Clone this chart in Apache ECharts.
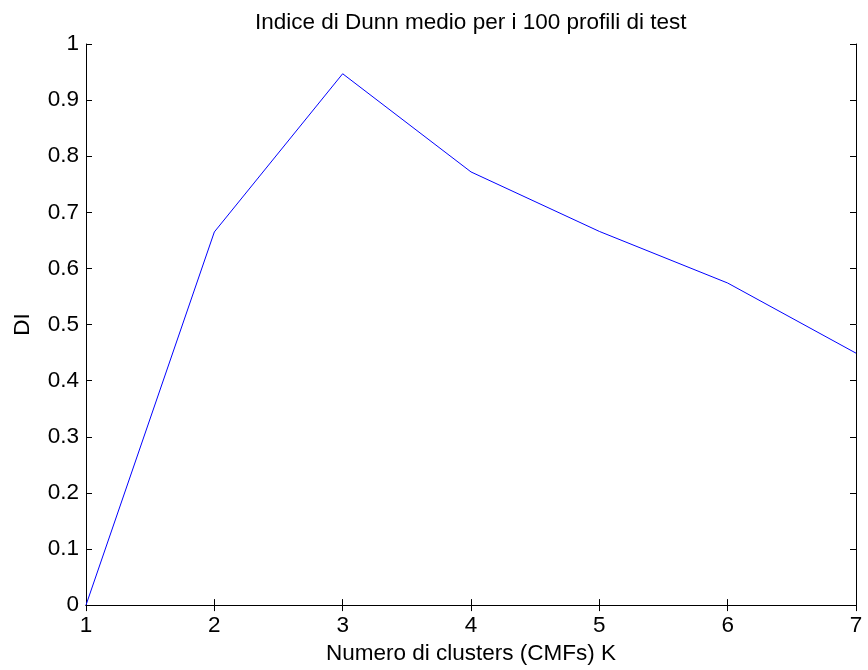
<!DOCTYPE html>
<html>
<head>
<meta charset="utf-8">
<script src="https://cdn.jsdelivr.net/npm/echarts@6/dist/echarts.min.js"></script>
<style>
  html, body { margin: 0; padding: 0; background: #fff; }
  #chart { width: 868px; height: 670px; }
</style>
</head>
<body>
<div id="chart"></div>
<script>
// Numero di clusters K and mean Dunn index
const clusters = [1, 2, 3, 4, 5, 6, 7];
const dunnIndex = [0.0, 0.665, 0.947, 0.772, 0.666, 0.574, 0.449];

const titleText = 'Indice di Dunn medio per i 100 profili di test';
const xName = 'Numero di clusters (CMFs) K';
const yName = 'DI';

const FONT = '"Liberation Sans", Arial, Helvetica, sans-serif';
const FS = 22.5;

const chart = echarts.init(document.getElementById('chart'), null, { renderer: 'canvas' });

const frameLine = { show: true, lineStyle: { color: '#000', width: 1 } };
const innerTick = { show: true, inside: true, length: 6, lineStyle: { color: '#000', width: 1 } };

chart.setOption({
  animation: false,
  backgroundColor: '#fff',
  title: {
    text: titleText,
    left: 250,
    top: 6,
    textStyle: { fontFamily: FONT, fontSize: FS, fontWeight: 'normal', color: '#000' }
  },
  grid: { left: 86, right: 12, top: 44, bottom: 63, containLabel: false },
  xAxis: [
    {
      type: 'value', min: 1, max: 7, interval: 1, position: 'bottom',
      name: xName, nameLocation: 'middle', nameGap: 36,
      nameTextStyle: { fontFamily: FONT, fontSize: FS, color: '#000' },
      axisLine: frameLine, axisTick: innerTick,
      axisLabel: { fontFamily: FONT, fontSize: FS, color: '#000', margin: 9 },
      splitLine: { show: false }
    },
    {
      type: 'value', min: 1, max: 7, interval: 1, position: 'top',
      axisLine: frameLine, axisTick: innerTick,
      axisLabel: { show: false }, splitLine: { show: false }
    }
  ],
  yAxis: [
    {
      type: 'value', min: 0, max: 1, interval: 0.1, position: 'left',
      name: yName, nameLocation: 'middle', nameGap: 52, nameRotate: 90,
      nameTextStyle: { fontFamily: FONT, fontSize: FS, color: '#000' },
      axisLine: frameLine, axisTick: innerTick,
      axisLabel: { fontFamily: FONT, fontSize: FS, color: '#000', margin: 7 },
      splitLine: { show: false }
    },
    {
      type: 'value', min: 0, max: 1, interval: 0.1, position: 'right',
      axisLine: frameLine, axisTick: innerTick,
      axisLabel: { show: false }, splitLine: { show: false }
    }
  ],
  series: [
    {
      type: 'line',
      xAxisIndex: 0,
      yAxisIndex: 0,
      data: clusters.map((k, i) => [k, dunnIndex[i]]),
      showSymbol: false,
      lineStyle: { color: '#0000ff', width: 1 },
      itemStyle: { color: '#0000ff' }
    }
  ]
});
</script>
</body>
</html>
